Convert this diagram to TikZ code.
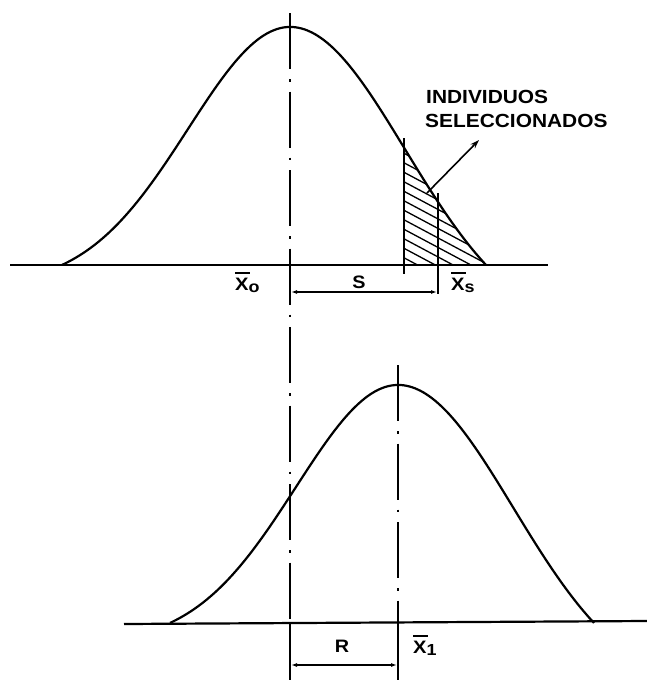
\documentclass[tikz,border=0pt]{standalone}
\usepackage{fontspec}
\setmainfont{Liberation Sans}
\usetikzlibrary{arrows.meta}
\newcommand{\xbarlabel}[1]{\scalebox{1.12}[1]{\rlap{\rule[16.5pt]{13.5pt}{2pt}}X\raisebox{-2pt}{\fontsize{16}{16}\selectfont #1}}}
\newcommand{\widetext}[1]{\scalebox{1.1}[1]{#1}}
\newcommand{\bellpath}{plot[domain=-228:0, samples=70] ({\x+290}, {265-238*(exp(-0.5*(\x/102)*(\x/102))-0.082)/0.918}) -- plot[domain=0:196, samples=70] ({\x+290}, {265-238*(exp(-0.5*(\x/115)*(\x/115))-0.234)/0.766})}
\begin{document}
\begin{tikzpicture}[x=1pt,y=-1pt,
  curve/.style={line width=2.2pt, line join=round},
  baseln/.style={line width=2.2pt},
  axisln/.style={line width=1.6pt, dash pattern=on 56pt off 10pt on 2.5pt off 10pt},
  tickln/.style={line width=1.7pt},
  dimln/.style={line width=1.7pt, {Latex[length=6pt,width=4pt]}-{Latex[length=6pt,width=4pt]}},
  hatchln/.style={line width=1.3pt},
  lbl/.style={font=\bfseries\fontsize{18}{22}\selectfont, inner sep=0pt},
  bigl/.style={font=\bfseries\fontsize{19}{22}\selectfont, inner sep=0pt},
  ptr/.style={line width=1.6pt, -{Stealth[length=9pt,width=6pt]}}
  ]
\useasboundingbox (0,0) rectangle (647,680);

% bell curves (top and shifted bottom copy)
\foreach \dx/\dy in {0/0, 108/358}{
  \begin{scope}[shift={(\dx,\dy)}]
    \draw[curve] \bellpath;
  \end{scope}
}

% hatched region
\begin{scope}
  \clip (404,0) rectangle (520,265);
  \clip \bellpath -- cycle;
  \foreach \k in {0,...,18} \draw[hatchln] (395,120+\k*9.5) -- ++(120,64);
\end{scope}

% base lines
\coordinate (b1l) at (10,265); \coordinate (b1r) at (548,265);
\coordinate (b2l) at (124,624); \coordinate (b2r) at (647,621);
\draw[baseln] (b1l) -- (b1r);
\draw[baseln] (b2l) -- (b2r);

% mean axes
\coordinate (m0t) at (290,13); \coordinate (m0b) at (290,680);
\coordinate (m1t) at (398,365); \coordinate (m1b) at (398,680);
\draw[axisln] (m0t) -- (m0b);
\draw[axisln] (m1t) -- (m1b);

% solid ticks
\coordinate (t0a) at (290,262); \coordinate (t0b) at (290,300);
\coordinate (tsa) at (404,138); \coordinate (tsb) at (404,274);
\coordinate (txa) at (438,193); \coordinate (txb) at (438,294);
\coordinate (r0a) at (290,623); \coordinate (r0b) at (290,680);
\coordinate (r1a) at (398,621); \coordinate (r1b) at (398,680);
\draw[tickln] (t0a) -- (t0b);
\draw[tickln] (tsa) -- (tsb);
\draw[tickln] (txa) -- (txb);
\draw[tickln] (r0a) -- (r0b);
\draw[tickln] (r1a) -- (r1b);

% dimension lines
\coordinate (s0) at (291,292); \coordinate (s1) at (437,292);
\coordinate (rr0) at (291,665); \coordinate (rr1) at (397,665);
\draw[dimln] (s0) -- (s1);
\draw[dimln] (rr0) -- (rr1);

% labels
\node[lbl, anchor=base west] (x0) at (235,290) {\xbarlabel{o}};
\node[lbl, anchor=base] (slab) at (359,288) {\widetext{S}};
\node[lbl, anchor=base west] (xs) at (451,290) {\xbarlabel{s}};
\node[lbl, anchor=base] (rlab) at (342,652) {\widetext{R}};
\node[lbl, anchor=base west] (x1) at (413,653) {\xbarlabel{1}};

\node[bigl, anchor=base west] (ind) at (426,103) {\widetext{INDIVIDUOS}};
\node[bigl, anchor=base west] (sel) at (425,127) {\widetext{SELECCIONADOS}};

% pointer arrow
\coordinate (pa) at (427,193); \coordinate (pb) at (479,140);
\draw[ptr] (pa) -- (pb);
\end{tikzpicture}
\end{document}
